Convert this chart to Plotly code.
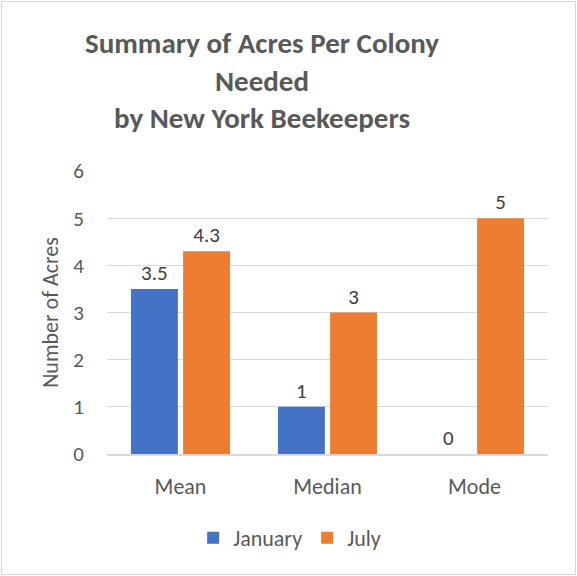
import plotly.graph_objects as go

categories = ["Mean", "Median", "Mode"]
january = [3.5, 1, 0]
july = [4.3, 3, 5]
series_names = ["January", "July"]
y_ticks = [0, 1, 2, 3, 4, 5, 6]

FONT = "Carlito, Lato, 'Open Sans', sans-serif"
W, H = 577, 576
L, R, T, B = 107, 29, 171, 122

fig = go.Figure()
fig.add_trace(go.Bar(
    x=categories, y=january, name=series_names[0],
    marker=dict(color="#4472C4", line=dict(width=0)),
    text=[str(v) for v in january], textposition="outside",
    textfont=dict(size=21, color="#404040", family=FONT),
    cliponaxis=False,
))
fig.add_trace(go.Bar(
    x=categories, y=july, name=series_names[1],
    marker=dict(color="#ED7D31", line=dict(width=0)),
    text=[str(v) for v in july], textposition="outside",
    textfont=dict(size=21, color="#404040", family=FONT),
    cliponaxis=False,
))

pw = W - L - R
ph = H - T - B
fig.add_shape(type="rect", xref="paper", yref="paper",
              x0=(1.5 - L) / pw, x1=(W - 1.5 - L) / pw,
              y0=-(H - 1.5 - T - ph) / ph, y1=(ph + T - 1.5) / ph,
              line=dict(color="#D9D9D9", width=1), fillcolor="rgba(0,0,0,0)",
              layer="below")

fig.update_layout(
    width=W, height=H,
    margin=dict(l=L, r=R, t=T, b=B, pad=0, autoexpand=False),
    paper_bgcolor="white", plot_bgcolor="white",
    font=dict(family=FONT, color="#595959", size=21),
    title=dict(
        text="<b>Summary of Acres Per Colony<br>Needed<br>by New York Beekeepers</b>",
        x=262 / W, xref="container", xanchor="center",
        y=1 - 53 / H, yref="container", yanchor="top",
        font=dict(size=29, color="#595959", family=FONT),
    ),
    barmode="group", bargap=0.29, bargroupgap=0.1,
    xaxis=dict(
        showgrid=False, showline=True, linecolor="#D9D9D9", linewidth=1.5,
        ticks="", tickfont=dict(size=22, color="#595959"),
        ticklabelstandoff=12, automargin=False,
    ),
    yaxis=dict(
        range=[0, 6], tickvals=y_ticks, showgrid=True, gridcolor="#D9D9D9",
        gridwidth=1, zeroline=False, showline=False, ticks="",
        tickfont=dict(size=21, color="#595959"), ticklabelstandoff=22,
        automargin=False,
        title=dict(text="Number of Acres", font=dict(size=22, color="#595959"),
                   standoff=8),
    ),
    legend=dict(
        orientation="h", xref="container", yref="container",
        x=0.502, xanchor="center", y=1 - 538 / H, yanchor="middle",
        font=dict(size=22, color="#595959"), itemwidth=30,
        traceorder="normal",
    ),
)

fig.write_html("out.html", config={"displayModeBar": False},
               post_script="document.body.style.margin='0';")
